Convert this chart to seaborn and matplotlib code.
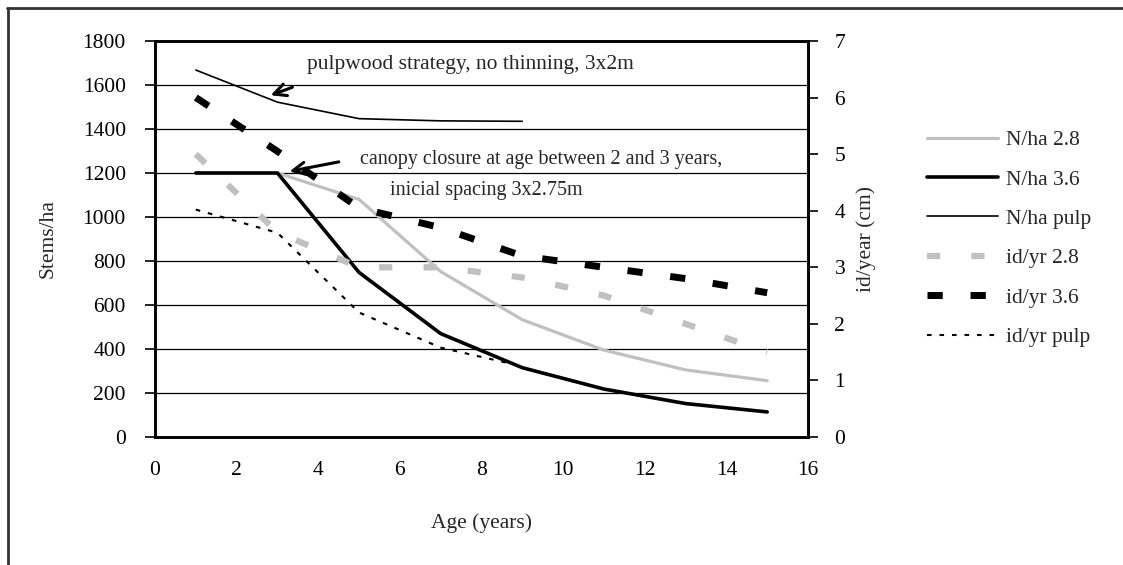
import numpy as np
import pandas as pd
import matplotlib
matplotlib.use("Agg")
import matplotlib.pyplot as plt
import seaborn as sns
from matplotlib.lines import Line2D

# ---- data ----
age = [1, 3, 5, 7, 9, 11, 13, 15]
age_pulp = [1, 3, 5, 7, 9]
nha_28 = [1200, 1200, 1080, 752, 533, 395, 305, 256]
nha_36 = [1200, 1200, 748, 470, 315, 218, 152, 114]
nha_pulp = [1668, 1522, 1447, 1437, 1435]
idyr_28 = [5.0, 3.62, 3.0, 3.0, 2.82, 2.5, 2.0, 1.5]
idyr_36 = [6.0, 5.05, 4.05, 3.7, 3.2, 3.0, 2.8, 2.55]
idyr_pulp = [4.02, 3.61, 2.2, 1.58, 1.25]

labels = ["N/ha 2.8", "N/ha 3.6", "N/ha pulp", "id/yr 2.8", "id/yr 3.6", "id/yr pulp"]

sns.set_style("white")
plt.rcParams['font.family'] = ['Liberation Serif', 'DejaVu Serif']
FS = 15.5

W, H = 1123, 565
fig = plt.figure(figsize=(W / 100, H / 100), dpi=100)
L, R, T, B = 155, 808, 41, 437
ax = fig.add_axes([L / W, 1 - B / H, (R - L) / W, (B - T) / H])
ax2 = ax.twinx()

df_n = pd.DataFrame({"age": age, "n28": nha_28, "n36": nha_36})
df_p = pd.DataFrame({"age": age_pulp, "np": nha_pulp, "ip": idyr_pulp})
df_i = pd.DataFrame({"age": age, "i28": idyr_28, "i36": idyr_36})

ax.set_ylim(0, 1800)
ax.set_yticks(range(0, 1801, 200))
ax.set_xlim(0, 16)
ax.set_xticks(range(0, 17, 2))
for yv in range(200, 1800, 200):
    ax.axhline(yv, color="black", lw=0.9, zorder=0.5)

sns.lineplot(data=df_n, x="age", y="n28", ax=ax, color="#c0c0c0", lw=2.3, label=labels[0], legend=False)
sns.lineplot(data=df_n, x="age", y="n36", ax=ax, color="black", lw=2.6, label=labels[1], legend=False)
sns.lineplot(data=df_p, x="age", y="np", ax=ax, color="black", lw=1.2, label=labels[2], legend=False)

l4 = sns.lineplot(data=df_i, x="age", y="i28", ax=ax2, color="#c0c0c0", lw=4.5, label=labels[3], legend=False).lines[-1]
l4.set_dashes((2.1, 5.0))
l5 = sns.lineplot(data=df_i, x="age", y="i36", ax=ax2, color="black", lw=5.0, label=labels[4], legend=False).lines[-1]
l5.set_dashes((2.2, 4.0))
l6 = sns.lineplot(data=df_p, x="age", y="ip", ax=ax2, color="black", lw=1.5, label=labels[5], legend=False).lines[-1]
l6.set_dashes((2.2, 3.8))

ax2.set_ylim(0, 7)
ax2.set_yticks(range(0, 8))

for a in (ax, ax2):
    for s in a.spines.values():
        s.set_visible(True)
        s.set_color("black")
        s.set_linewidth(1.9)
    a.tick_params(labelsize=FS, colors="black", length=7, width=1.2, direction="out")
ax.tick_params(axis="x", pad=10)
ax.tick_params(axis="y", pad=14)
ax2.tick_params(axis="y", pad=12)

ax.set_xlabel("Age (years)", fontsize=FS, labelpad=24)
ax.set_ylabel("Stems/ha", fontsize=FS, labelpad=18)
ax2.set_ylabel("id/year (cm)", fontsize=FS, labelpad=8)

# annotations
FS_ANN = 14.5
ax.text(7.72, 1695, "pulpwood strategy, no thinning, 3x2m", fontsize=FS, ha="center", va="center")
ax.annotate("", xy=(2.77, 1549), xytext=(3.43, 1594),
            arrowprops=dict(arrowstyle="->", lw=2.2, color="black", mutation_scale=22))
ax.text(5.02, 1262, "canopy closure at age between 2 and 3 years,", fontsize=FS_ANN, ha="left", va="center")
ax.text(5.76, 1120, "inicial spacing 3x2.75m", fontsize=FS_ANN, ha="left", va="center")
ax.annotate("", xy=(3.23, 1205), xytext=(4.57, 1253),
            arrowprops=dict(arrowstyle="->", lw=2.2, color="black", mutation_scale=22))

# legend
h1, lb1 = ax.get_legend_handles_labels()
h2, lb2 = ax2.get_legend_handles_labels()
fig.legend(h1 + h2, lb1 + lb2, loc="upper left", bbox_to_anchor=(927 / W, 1 - 130 / H),
           frameon=False, fontsize=FS, handlelength=3.3, handletextpad=0.35,
           labelspacing=0.9, borderpad=0, borderaxespad=0)

# outer (cropped) frame
fig.add_artist(Line2D([7 / W, 1], [1 - 7.5 / H, 1 - 7.5 / H], transform=fig.transFigure, color="#333333", lw=2))
fig.add_artist(Line2D([7.5 / W, 7.5 / W], [0, 1 - 7.5 / H], transform=fig.transFigure, color="#333333", lw=2))

fig.savefig("out.png", dpi=100)
